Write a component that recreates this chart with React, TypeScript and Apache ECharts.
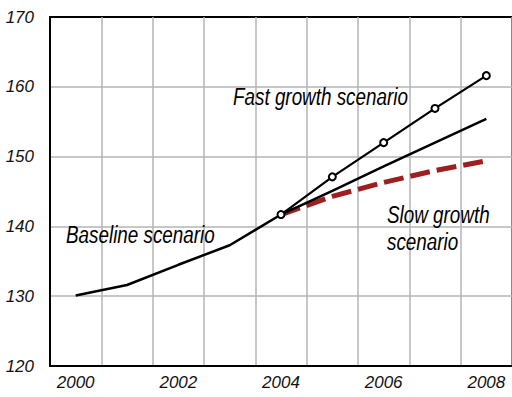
import React, { useEffect, useRef } from "react";
import * as echarts from "echarts";

const years = ["2000", "2001", "2002", "2003", "2004", "2005", "2006", "2007", "2008"];
const baseline = [130.1, 131.6, 134.5, 137.3, 141.7, 145.1, 148.6, 152.0, 155.4];
const fastGrowth = [null, null, null, null, 141.7, 147.1, 152.0, 156.9, 161.6];
const slowGrowth = [null, null, null, null, 141.7, 144.3, 146.3, 148.0, 149.4];
const annotations = [
  { text: "Fast growth scenario", x: 233, y: 97 },
  { text: "Baseline scenario", x: 66, y: 235 },
  { text: "Slow growth\nscenario", x: 387, y: 228 },
];

const FONT = "'Liberation Sans', Arial, sans-serif";

export default function App() {
  const ref = useRef<HTMLDivElement>(null);
  useEffect(() => {
    if (!ref.current) return;
    const chart = echarts.init(ref.current, null, { renderer: "svg" });
    chart.setOption({
      animation: false,
      backgroundColor: "#fff",
      grid: {
        left: 50,
        top: 17,
        width: 468,
        height: 349,
        show: true,
        borderColor: "#000",
        borderWidth: 2,
        backgroundColor: "transparent",
      },
      xAxis: {
        type: "category",
        data: years,
        boundaryGap: true,
        axisLine: { show: true, lineStyle: { color: "#000", width: 2 } },
        axisTick: { show: false },
        axisLabel: {
          interval: 1,
          margin: 8,
          fontFamily: FONT,
          fontStyle: "italic",
          fontSize: 17,
          color: "#111",
        },
        splitLine: { show: true, interval: 0, lineStyle: { color: "#b4b4b4", width: 1.5 } },
      },
      yAxis: {
        type: "value",
        min: 120,
        max: 170,
        interval: 10,
        axisLine: { show: true, lineStyle: { color: "#000", width: 2 } },
        axisTick: { show: false },
        axisLabel: {
          margin: 16,
          fontFamily: FONT,
          fontStyle: "italic",
          fontSize: 17,
          color: "#111",
          padding: [4, 0, 0, 0],
        },
        splitLine: {
          show: true,
          showMinLine: false,
          showMaxLine: false,
          lineStyle: { color: "#b4b4b4", width: 1.5 },
        },
      },
      series: [
        {
          name: "Slow",
          type: "line",
          data: slowGrowth,
          symbol: "none",
          lineStyle: { color: "#9e1f1f", width: 5, type: [20, 7] },
          z: 2,
        },
        {
          name: "Baseline",
          type: "line",
          data: baseline,
          symbol: "none",
          lineStyle: { color: "#000", width: 2.5 },
          z: 3,
        },
        {
          name: "Fast",
          type: "line",
          data: fastGrowth,
          symbol: "circle",
          symbolSize: 7,
          itemStyle: { color: "#fff", borderColor: "#000", borderWidth: 2 },
          lineStyle: { color: "#000", width: 2.2 },
          z: 4,
        },
      ],
      graphic: annotations.map((a) => ({
        type: "text",
        x: a.x,
        y: a.y,
        scaleX: 0.82,
        z: 10,
        style: {
          text: a.text,
          fontFamily: FONT,
          fontStyle: "italic",
          fontSize: 23,
          lineHeight: 27,
          fill: "#000",
          verticalAlign: "middle",
        },
      })),
    });
    return () => chart.dispose();
  }, []);
  return <div ref={ref} style={{ width: 512, height: 397, position: "absolute", left: 0, top: 0 }} />;
}
